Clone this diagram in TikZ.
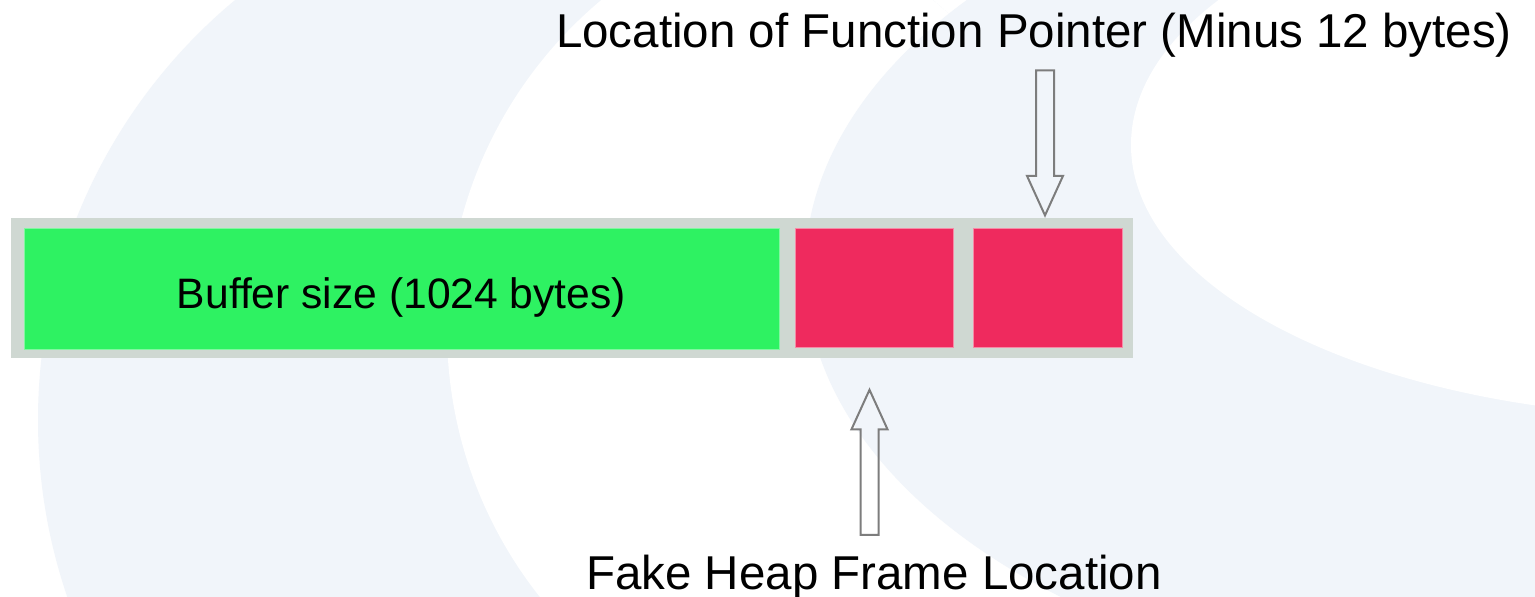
\documentclass[tikz,border=0pt]{standalone}
\usepackage{fontspec}
\setmainfont{Liberation Sans}
\usetikzlibrary{shapes.arrows}
\definecolor{bgblue}{RGB}{241,245,250}
\definecolor{bargray}{RGB}{207,216,210}
\definecolor{bufgreen}{RGB}{46,242,98}
\definecolor{slotred}{RGB}{239,42,94}
\definecolor{arrgray}{RGB}{125,125,125}
\begin{document}
\begin{tikzpicture}[
    x=1pt, y=-1pt,
    every node/.style={align=center, inner sep=0pt},
    slot/.style={rectangle, draw=slotred!55!white, line width=0.8pt, fill=slotred, minimum height=119pt},
    hollow/.style={single arrow, draw=arrgray, line width=2pt, inner sep=8pt,
                   single arrow head extend=9pt, single arrow tip angle=49, minimum height=145pt},
    lbl/.style={font=\fontsize{47.5}{56}\selectfont, anchor=base},
]
\useasboundingbox (0,0) rectangle (1535,597);
\fill[white] (0,0) rectangle (1535,597);
\begin{scope}
  \clip (584,420) circle[radius=546pt];
  \fill[bgblue] (584,420) circle[radius=546pt];
  \fill[white] (877,330) circle[radius=430pt];
\end{scope}
\begin{scope}
  \clip (1535,270) ellipse[x radius=730pt, y radius=430pt];
  \fill[bgblue] (1535,270) ellipse[x radius=730pt, y radius=430pt];
  \fill[white] (1700,145) ellipse[x radius=569pt, y radius=272pt];
\end{scope}
\node[rectangle, fill=bargray, minimum width=1122pt, minimum height=140pt] (bar) at (572,288) {};
\node[rectangle, draw=bufgreen!60!white, line width=0.8pt, fill=bufgreen, minimum width=755pt, minimum height=121pt,
      font=\fontsize{42.6}{50}\selectfont, text height=39pt, text depth=0pt] (buffer) at (401.5,288.5) {Buffer size (1024 bytes)};
\node[slot, minimum width=158pt] (frame) at (874,287.5) {};
\node[slot, minimum width=149pt] (fptr) at (1047.5,287.5) {};
\node[lbl] (lblfptr) at (1034,47.7) {Location of Function Pointer (Minus 12 bytes)};
\node[lbl] (lblframe) at (874,589) {Fake Heap Frame Location};
\node[hollow, rotate=-90, anchor=tip] (arrfptr) at ([xshift=-2.5pt]fptr.north |- bar.north) {};
\node[hollow, rotate=90, anchor=tip] (arrframe) at ([xshift=-4.5pt, yshift=-40pt]frame.south) {};
\end{tikzpicture}
\end{document}
